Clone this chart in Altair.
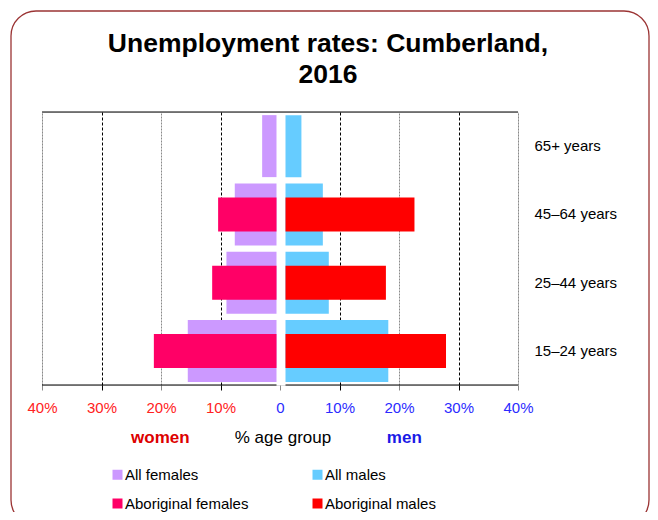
import altair as alt
import pandas as pd

FONT = "Liberation Sans"

# ---- data ----
ages = ["65+ years", "45–64 years", "25–44 years", "15–24 years"]
all_females = [3.0, 7.6, 9.0, 15.5]
aboriginal_females = [None, 10.4, 11.4, 21.2]
all_males = [3.6, 7.2, 8.2, 18.2]
aboriginal_males = [None, 22.6, 17.8, 27.9]

series_names = ["All females", "Aboriginal females", "All males", "Aboriginal males"]
series_colors = ["#CC99FF", "#FF0066", "#66CCFF", "#FF0000"]
x_ticks = [-40, -30, -20, -10, 0, 10, 20, 30, 40]
title_lines = ["Unemployment rates: Cumberland,", "2016"]

rows = []
for name, vals in [("All females", all_females), ("Aboriginal females", aboriginal_females),
                   ("All males", all_males), ("Aboriginal males", aboriginal_males)]:
    for age, v in zip(ages, vals):
        if v is not None:
            rows.append({"age": age, "series": name, "value": v})
df = pd.DataFrame(rows)

x_scale = alt.Scale(domain=[-40, 40], nice=False, zero=False)
y_scale = alt.Scale(domain=ages, paddingInner=0, paddingOuter=0)

grid_color = {"condition": {"test": "datum.value % 20 === 0", "value": "#8a8a8a"}, "value": "#000000"}
grid_dash = {"condition": {"test": "datum.value % 20 === 0", "value": [2, 1]}, "value": [3, 2]}
grid_opacity = {"condition": {"test": "datum.value === 0", "value": 0}, "value": 1}
label_color = {"condition": {"test": "datum.value < 0", "value": "#FF2222"}, "value": "#2B2BFF"}

x_axis = alt.Axis(
    values=x_ticks,
    labelExpr="datum.value == 0 ? '0' : abs(datum.value) + '%'",
    title=None, domain=False, grid=True,
    gridColor=grid_color, gridDash=grid_dash, gridOpacity=grid_opacity,
    tickColor=grid_color, tickSize=5,
    labelColor=label_color, labelFontSize=15, labelPadding=10, labelFont=FONT,
    labelFlush=False, labelOverlap=False,
)
y_axis = alt.Axis(orient="right", title=None, ticks=False, domain=False,
                  labelPadding=16, labelFontSize=15, labelColor="black", labelFont=FONT)

color_enc = alt.Color(
    "series:N",
    scale=alt.Scale(domain=series_names, range=series_colors),
    legend=alt.Legend(
        orient="none", legendX=68, legendY=355, columns=2, title=None,
        symbolType="square", symbolSize=100, symbolStrokeWidth=0, labelOffset=0,
        labelFontSize=15, labelFont=FONT, labelColor="black",
        columnPadding=61, rowPadding=13, padding=0,
    ),
)

y_enc = alt.Y("age:N", scale=y_scale, axis=y_axis, sort=ages)


def xd(v):
    return alt.XDatum(v, scale=x_scale, axis=x_axis)


base = alt.Chart(df)

fem_all = base.transform_filter(alt.datum.series == "All females").transform_calculate(
    neg="-datum.value").mark_bar(size=62, x2Offset=-3.5).encode(
    x=alt.X("neg:Q", scale=x_scale, axis=x_axis), x2=alt.datum(0), y=y_enc, color=color_enc)
fem_ab = base.transform_filter(alt.datum.series == "Aboriginal females").transform_calculate(
    neg="-datum.value").mark_bar(size=34, x2Offset=-3.5).encode(
    x=alt.X("neg:Q", scale=x_scale, axis=x_axis), x2=alt.datum(0), y=y_enc, color=color_enc)
male_all = base.transform_filter(alt.datum.series == "All males").mark_bar(
    size=62, x2Offset=5.5).encode(
    x=alt.X("value:Q", scale=x_scale, axis=x_axis), x2=alt.datum(0), y=y_enc, color=color_enc)
male_ab = base.transform_filter(alt.datum.series == "Aboriginal males").mark_bar(
    size=34, x2Offset=5.5).encode(
    x=alt.X("value:Q", scale=x_scale, axis=x_axis), x2=alt.datum(0), y=y_enc, color=color_enc)

one = alt.Data(values=[{"k": 1}])

top_line = alt.Chart(one).mark_rule(color="black", strokeWidth=1).encode(
    x=xd(-40), x2=alt.datum(40), y=alt.value(0))
bottom_left = alt.Chart(one).mark_rule(color="black", strokeWidth=1, x2Offset=-3.5).encode(
    x=xd(-40), x2=alt.datum(0), y=alt.value(273))
bottom_right = alt.Chart(one).mark_rule(color="black", strokeWidth=1, xOffset=5.5).encode(
    x=xd(0), x2=alt.datum(40), y=alt.value(273))

women_txt = alt.Chart(one).mark_text(font=FONT, fontSize=17, fontWeight="bold", color="#DD0000",
                                     baseline="middle").encode(
    x=xd(-20.1), y=alt.value(326), text=alt.value("women"))
mid_txt = alt.Chart(one).mark_text(font=FONT, fontSize=17, color="black",
                                   baseline="middle").encode(
    x=xd(0.5), y=alt.value(326), text=alt.value("% age group"))
men_txt = alt.Chart(one).mark_text(font=FONT, fontSize=17, fontWeight="bold", color="#1A1AE6",
                                   baseline="middle").encode(
    x=xd(20.9), y=alt.value(326), text=alt.value("men"))

title1 = alt.Chart(one).mark_text(font=FONT, fontSize=26.5, fontWeight="bold", color="black",
                                  align="center", baseline="alphabetic").encode(
    x=alt.value(286), y=alt.value(-60), text=alt.value(title_lines[0]))
title2 = alt.Chart(one).mark_text(font=FONT, fontSize=26.5, fontWeight="bold", color="black",
                                  align="center", baseline="alphabetic").encode(
    x=alt.value(286), y=alt.value(-29), text=alt.value(title_lines[1]))

border = alt.Chart(one).mark_rect(cornerRadius=25, fillOpacity=0, stroke="#9B3434",
                                  strokeWidth=1.3).encode(
    x=alt.value(-31), x2=alt.value(607), y=alt.value(-101), y2=alt.value(413))

chart = alt.layer(
    fem_all, fem_ab, male_all, male_ab, top_line, bottom_left, bottom_right,
    women_txt, mid_txt, men_txt, title1, title2, border,
).properties(
    width=476, height=273,
    autosize=alt.AutoSizeParams(type="none"),
    padding={"left": 34, "top": 104, "right": 132, "bottom": 127},
).configure_view(
    stroke="transparent"
).configure(font=FONT)

chart.save("out.html", embed_options={"renderer": "svg", "actions": False})
